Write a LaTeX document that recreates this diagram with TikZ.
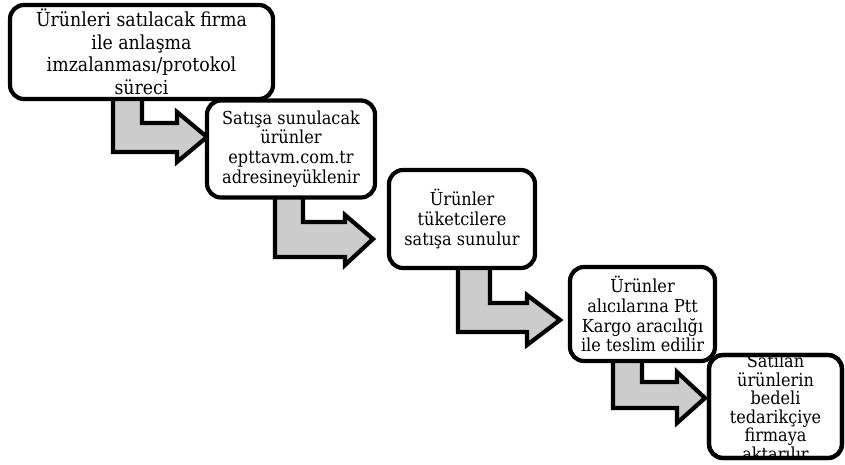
\documentclass[tikz,border=0pt]{standalone}
\usepackage{fontspec}
\setmainfont{DejaVu Serif Condensed}
\begin{document}
\begin{tikzpicture}[x=1pt,y=-1pt,
  boxst/.style={draw=black,fill=white,line width=4.2pt,rounded corners=14pt,align=center,inner sep=0pt,outer sep=0pt},
  arrowst/.style={draw=black,fill=black!20,line width=4.2pt,line join=miter},
  smalltxt/.style={font=\fontsize{17.9}{19.8}\selectfont,align=center}]
\useasboundingbox (0,0) rectangle (845,464);
% block arrows
\draw[arrowst] (113,90) -- (113,152) -- (177,152) -- (177,162) -- (207,137) -- (177,112) -- (177,123) -- (142,123) -- (142,90) -- cycle;
\draw[arrowst] (275,190) -- (275,257) -- (345,257) -- (345,265) -- (373,239) -- (345,215) -- (345,222) -- (303,222) -- (303,190) -- cycle;
\draw[arrowst] (458,262) -- (458,332) -- (527,332) -- (527,345) -- (560,320) -- (527,295) -- (527,303) -- (490,303) -- (490,262) -- cycle;
\draw[arrowst] (613,355) -- (613,408) -- (677,408) -- (677,423) -- (705,398) -- (677,372) -- (677,382) -- (642,382) -- (642,355) -- cycle;
% boxes
\node[boxst,minimum width=263pt,minimum height=94pt,font=\fontsize{19.3}{22.5}\selectfont] (b1) at (141.5,52)
  {Ürünleri satılacak firma\\ile anlaşma\\imzalanması/protokol\\süreci};
\node[boxst,smalltxt,minimum width=168pt,minimum height=97pt] (b2) at (291,149)
  {Satışa sunulacak\\ürünler\\epttavm.com.tr\\adresineyüklenir};
\node[boxst,smalltxt,minimum width=146pt,minimum height=98pt] (b3) at (462,219)
  {Ürünler\\tüketcilere\\satışa sunulur};
\node[boxst,smalltxt,minimum width=145pt,minimum height=94pt] (b4) at (642.5,314)
  {Ürünler\\alıcılarına Ptt\\Kargo aracılığı\\ile teslim edilir};
\node[boxst,minimum width=133pt,minimum height=103pt] (b5) at (775.5,406.5) {};
\begin{scope}
  \clip[rounded corners=14pt] (b5.south west) rectangle (b5.north east);
  \node[font=\fontsize{17.9}{18.5}\selectfont,align=center,inner sep=0pt] (t5) at ([yshift=-1pt]b5.center) {Satılan\\ürünlerin\\bedeli\\tedarikçiye\\firmaya\\aktarılır};
\end{scope}
\draw[line width=4.2pt,rounded corners=14pt] (b5.south west) rectangle (b5.north east);
\end{tikzpicture}
\end{document}
